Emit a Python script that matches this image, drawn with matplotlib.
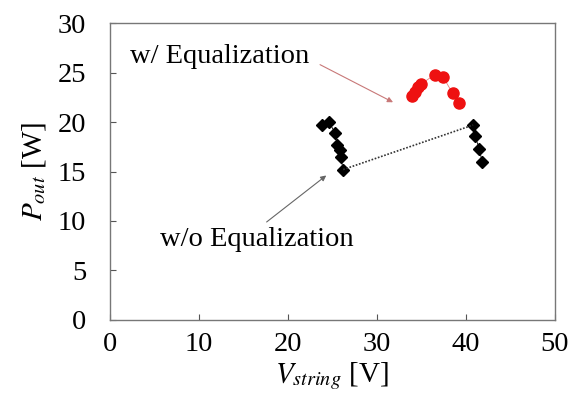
import numpy as np
import matplotlib.pyplot as plt

plt.rcParams['font.family'] = ['Liberation Serif', 'DejaVu Serif']
plt.rcParams['mathtext.fontset'] = 'stix'

# with equalization
v_eq = [33.9, 34.3, 34.6, 34.9, 36.5, 37.4, 38.5, 39.2]
p_eq = [22.6, 23.0, 23.5, 23.8, 24.8, 24.6, 22.9, 21.9]

# without equalization, two clusters
v_lo = [23.8, 24.6, 25.3, 25.5, 25.8, 25.9, 26.2]
p_lo = [19.7, 20.0, 18.9, 17.7, 17.2, 16.5, 15.2]
v_hi = [40.8, 41.0, 41.5, 41.8]
p_hi = [19.7, 18.6, 17.3, 16.0]

fig = plt.figure(figsize=(5.71, 4.05), dpi=100)
ax = fig.add_axes([0.1926, 0.21, 0.7794, 0.733])

ax.plot(v_eq, p_eq, color='#e88080', lw=0.6, marker='o', ms=8,
        mfc='#ee1111', mec='#ee1111')
ax.plot(v_lo, p_lo, color='k', lw=0.6, marker='D', ms=6.5, mfc='k', mec='k')
ax.plot(v_hi, p_hi, color='k', lw=0.6, marker='D', ms=6.5, mfc='k', mec='k')
ax.plot([v_lo[-1], v_hi[0]], [p_lo[-1], p_hi[0]], color='#333333', lw=1.2,
        ls=(0, (1, 1)))

ax.text(2.2, 26.6, 'w/ Equalization', fontsize=20.5, va='center', ha='left')
ax.annotate('', xy=(31.8, 22.0), xytext=(23.6, 25.8),
            arrowprops=dict(arrowstyle='-|>', color='#c87878', lw=0.8,
                            mutation_scale=8, shrinkA=0, shrinkB=0))

ax.text(5.6, 8.1, 'w/o Equalization', fontsize=20.5, va='center', ha='left')
ax.annotate('', xy=(24.3, 14.6), xytext=(17.6, 9.9),
            arrowprops=dict(arrowstyle='-|>', color='#666666', lw=0.8,
                            mutation_scale=8, shrinkA=0, shrinkB=0))

ax.set_xlim(0, 50)
ax.set_ylim(0, 30)
ax.set_xticks(np.arange(0, 51, 10))
ax.set_yticks(np.arange(0, 31, 5))
ax.tick_params(direction='in', labelsize=20.5, length=4, color='#555555')
ax.tick_params(axis='x', pad=9)
ax.tick_params(axis='y', pad=17)
for s in ax.spines.values():
    s.set_color('#777777')
    s.set_linewidth(1.0)

ax.set_xlabel('$V_{string}$ [V]', fontsize=21, labelpad=2)
ax.set_ylabel('$P_{out}$ [W]', fontsize=21, labelpad=7)

fig.savefig('out.png', dpi=100)
